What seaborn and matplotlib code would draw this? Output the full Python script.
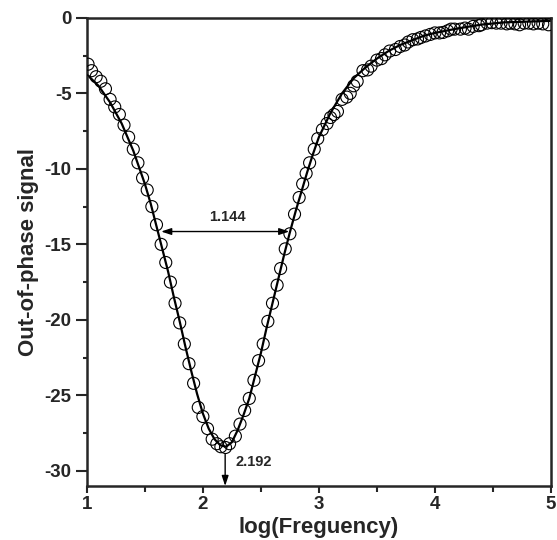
import pandas as pd
import matplotlib
matplotlib.use("Agg")
import matplotlib.pyplot as plt
import seaborn as sns
from matplotlib.ticker import MultipleLocator

# measured points (open circles)
log_freq = [1.01, 1.04, 1.08, 1.12, 1.16, 1.20, 1.24, 1.28, 1.32, 1.36, 1.40, 1.44, 1.48, 1.52, 1.56, 1.60, 1.64,
            1.68, 1.72, 1.76, 1.80, 1.84, 1.88, 1.92, 1.96, 2.00, 2.04, 2.08,
            2.12, 2.155, 2.195, 2.23, 2.28, 2.32, 2.36, 2.40, 2.44, 2.48, 2.52, 2.56, 2.60, 2.64,
            2.67, 2.71, 2.75, 2.79, 2.83, 2.86, 2.89, 2.92, 2.96, 2.99,
            3.03, 3.07, 3.10, 3.13, 3.16, 3.20, 3.24, 3.27, 3.30, 3.33,
            3.38, 3.42, 3.45, 3.50, 3.54, 3.57, 3.61, 3.66, 3.70, 3.74,
            3.77, 3.81, 3.85, 3.88, 3.92, 3.96, 4.00, 4.04, 4.07, 4.11,
            4.14, 4.17, 4.22, 4.26, 4.29, 4.33, 4.38, 4.40, 4.45, 4.49,
            4.53, 4.57, 4.62, 4.65, 4.69, 4.73, 4.77, 4.81, 4.85, 4.89, 4.93, 4.98]
signal = [-3.07, -3.5, -3.9, -4.2, -4.7, -5.4, -5.9, -6.4, -7.1, -7.9, -8.7, -9.6, -10.6, -11.4, -12.5, -13.7, -15.0,
          -16.2, -17.5, -18.9, -20.2, -21.6, -22.9, -24.2, -25.8, -26.4, -27.2, -27.9,
          -28.2, -28.4, -28.45, -28.2, -27.7, -26.9, -26.0, -25.2, -24.0, -22.7, -21.6, -20.1, -18.9, -17.7,
          -16.6, -15.3, -14.3, -13.0, -11.9, -11.0, -10.3, -9.6, -8.7, -8.0,
          -7.4, -7.0, -6.6, -6.4, -6.2, -5.4, -5.25, -5.0, -4.5, -4.2,
          -3.5, -3.45, -3.2, -2.8, -2.7, -2.45, -2.2, -2.1, -1.9, -1.8,
          -1.6, -1.45, -1.4, -1.3, -1.2, -1.1, -1.0, -1.0, -0.97, -0.86,
          -0.75, -0.75, -0.75, -0.68, -0.75, -0.57, -0.52, -0.46, -0.35, -0.32,
          -0.35, -0.35, -0.4, -0.35, -0.4, -0.46, -0.35, -0.35, -0.4, -0.35, -0.4, -0.46]

# fitted curve (solid line)
fit_x = [1.0, 1.1, 1.2, 1.3, 1.4, 1.5, 1.55, 1.6, 1.65, 1.7, 1.75, 1.8, 1.85, 1.9, 1.95, 2.0,
         2.05, 2.1, 2.15, 2.2, 2.25, 2.3, 2.35, 2.4, 2.45, 2.5, 2.55, 2.6, 2.65, 2.7, 2.75, 2.8,
         2.85, 2.9, 2.95, 3.0, 3.1, 3.2, 3.3, 3.4, 3.5, 3.6, 3.7, 3.8, 3.9, 4.0, 4.2, 4.4, 4.6, 4.8, 5.0]
fit_y = [-3.75, -4.5, -5.6, -7.0, -8.8, -11.0, -12.3, -13.8, -15.3, -16.8, -18.5, -20.1, -21.8, -23.4, -24.9, -26.2,
         -27.2, -27.9, -28.3, -28.4, -28.1, -27.3, -26.3, -25.2, -23.7, -22.2, -20.5, -18.9, -17.3, -15.7, -14.2, -12.8,
         -11.5, -10.2, -9.0, -7.9, -6.3, -5.0, -4.0, -3.3, -2.7, -2.2, -1.8, -1.5, -1.2, -1.0, -0.7, -0.45, -0.3, -0.25, -0.2]

# tick labels
x_ticks = [1, 2, 3, 4, 5]
x_ticklabels = ["1", "2", "3", "4", "5"]
y_ticks = [0, -5, -10, -15, -20, -25, -30]
y_ticklabels = ["0", "-5", "-10", "-15", "-20", "-25", "-30"]

# annotations
fwhm_left, fwhm_right, fwhm_level = 1.64, 2.745, -14.15
fwhm_label = "1.144"
peak_x = 2.192
peak_label = "2.192"

sns.set_style("ticks")
plt.rcParams['font.family'] = ['Liberation Sans', 'DejaVu Sans']
plt.rcParams['font.weight'] = 'bold'
plt.rcParams['axes.unicode_minus'] = False

df = pd.DataFrame({'x': log_freq, 'y': signal})
fit = pd.DataFrame({'x': fit_x, 'y': fit_y})

fig = plt.figure(figsize=(5.57, 5.40), dpi=100)
ax = fig.add_axes([0.156, 0.1, 0.833, 0.867])

sns.lineplot(data=fit, x='x', y='y', color='black', linewidth=1.6, ax=ax, zorder=2)
sns.scatterplot(data=df, x='x', y='y', marker='o', s=75, facecolor='none', edgecolor='black',
                linewidth=0.8, ax=ax, zorder=3)

# width arrow + peak arrow
ax.annotate('', xy=(fwhm_left, fwhm_level), xytext=(fwhm_right, fwhm_level),
            arrowprops=dict(arrowstyle='<|-|>,head_length=0.6,head_width=0.2', color='black', lw=1,
                            shrinkA=0, shrinkB=0))
ax.text((fwhm_left + fwhm_right) / 2 + 0.02, fwhm_level + 0.5, fwhm_label, ha='center', va='bottom',
        fontsize=10.5, fontweight='bold')
ax.annotate('', xy=(peak_x, -31), xytext=(peak_x, -28.9),
            arrowprops=dict(arrowstyle='-|>,head_length=0.6,head_width=0.2', color='black', lw=1,
                            shrinkA=0, shrinkB=0))
ax.text(peak_x + 0.09, -29.4, peak_label, ha='left', va='center', fontsize=10.5, fontweight='bold')

ax.set_xlim(1, 5)
ax.set_ylim(-31, 0)
ax.set_xticks(x_ticks, labels=x_ticklabels, fontsize=13.5, fontweight='bold')
ax.set_yticks(y_ticks, labels=y_ticklabels, fontsize=13.5, fontweight='bold')
ax.xaxis.set_minor_locator(MultipleLocator(0.5))
ax.yaxis.set_minor_locator(MultipleLocator(2.5))
ax.tick_params(axis='x', which='major', direction='out', length=5, width=1.5, pad=2)
ax.tick_params(axis='x', which='minor', direction='out', length=4, width=1.5)
ax.tick_params(axis='y', which='major', direction='out', length=8, width=1.5, pad=3)
ax.tick_params(axis='y', which='minor', direction='out', length=3, width=1.5)
for sp in ax.spines.values():
    sp.set_visible(True)
    sp.set_linewidth(1.8)

ax.set_xlabel('log(Freguency)', fontsize=16, fontweight='bold', labelpad=3)
ax.set_ylabel('Out-of-phase signal', fontsize=16, fontweight='bold', labelpad=4)

fig.savefig('out.png', dpi=100)
